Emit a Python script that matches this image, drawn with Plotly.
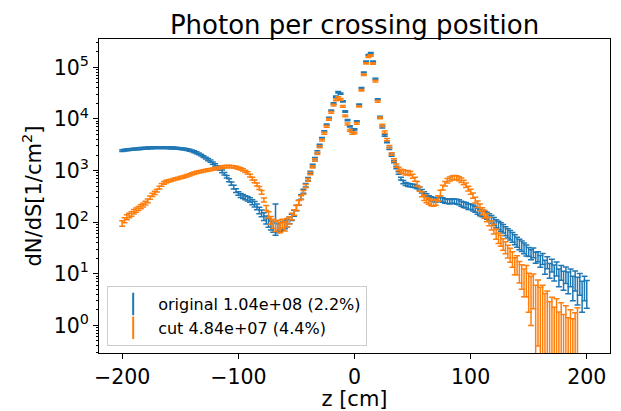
import plotly.graph_objects as go

# bin centres (cm)
z = list(range(-200, 201, 2))

orig_vals = [
    2450, 2500, 2520, 2560, 2580, 2600, 2630, 2650, 2680, 2700, 2720, 2740, 2760, 2770, 2780, 2790, 2790, 2800, 2790, 2780, 2770, 2760, 2740, 2720, 2700,
    2670, 2640, 2600, 2550, 2480, 2410, 2320, 2220, 2110, 1990, 1870, 1750, 1630, 1520, 1400, 1290, 1180, 1070, 970, 870, 760, 650, 560, 480, 410,
    360, 330, 315, 300, 285, 270, 245, 225, 200, 170, 150, 130, 112, 98, 88, 80, 140, 78, 82, 85, 90, 96, 110, 125, 150,
    190, 240, 310, 400, 520, 690, 920, 1250, 1700, 2300, 3100, 4200, 5700, 7800, 10500, 14500, 20000, 27000, 33000, 31000, 22000, 14000, 9500, 7200, 6200,
    6300, 9000, 19000, 40000, 80000, 130000, 175000, 190000, 130000, 60000, 24000, 11000, 7000, 4800, 3600, 2700, 2000, 1500, 1150, 900, 700, 600, 550, 530, 520,
    510, 500, 480, 450, 400, 360, 330, 300, 285, 275, 270, 275, 280, 270, 260, 255, 250, 260, 255, 250, 245, 230, 220, 215, 200,
    200, 190, 180, 165, 155, 150, 140, 135, 125, 115, 105, 95, 88, 82, 76, 68, 62, 57, 52, 47, 42, 38, 35, 32, 29,
    27, 24, 26, 21, 22, 18, 20, 14, 17, 12, 15, 11, 13, 9, 11, 8, 10, 7.5, 9, 6, 8, 5.5, 7, 4.5, 6, 4.8,
]
orig_err_pct = [
    4, 4, 4, 4, 4, 4, 4, 4, 4, 4, 4, 4, 4, 4, 4, 4, 4, 4, 4, 4, 4, 4, 4, 4, 4,
    4, 4, 4, 4, 4, 4, 4, 4, 4, 4, 4, 4, 5, 5, 5, 5, 5, 5, 6, 6, 6, 7, 7, 8, 8,
    8, 9, 9, 9, 10, 10, 11, 12, 13, 14, 15, 17, 18, 19, 20, 20, 60, 20, 19, 18, 17, 16, 15, 14, 13,
    12, 11, 10, 9, 8, 7, 6, 6, 5, 5, 4, 4, 4, 3, 3, 3, 3, 3, 3, 3, 3, 3, 3, 3, 3,
    3, 3, 3, 2, 2, 2, 2, 2, 2, 3, 3, 3, 4, 4, 4, 5, 5, 5, 6, 6, 6, 7, 7, 7, 7,
    7, 7, 7, 7, 8, 8, 8, 8, 9, 9, 9, 9, 9, 10, 10, 10, 10, 10, 10, 11, 11, 11, 12, 12, 12,
    12, 13, 13, 14, 14, 15, 15, 16, 16, 17, 17, 18, 18, 19, 19, 20, 20, 21, 21, 22, 22, 23, 23, 24, 24,
    20, 22, 21, 24, 22, 26, 24, 30, 26, 32, 28, 34, 30, 38, 32, 40, 35, 45, 38, 50, 42, 55, 45, 60, 50, 55,
]

cut_vals = [
    95, 110, 125, 135, 145, 160, 172, 185, 200, 215, 235, 260, 300, 340, 370, 410, 470, 530, 580, 610, 630, 650, 670, 690, 710,
    730, 750, 770, 800, 830, 860, 890, 920, 950, 970, 990, 1010, 1030, 1050, 1070, 1090, 1110, 1140, 1170, 1190, 1200, 1210, 1200, 1180, 1150,
    1120, 1080, 1030, 970, 900, 800, 700, 620, 540, 460, 380, 270, 190, 140, 110, 95, 85, 90, 80, 95, 85, 100, 110, 130, 155,
    190, 240, 300, 380, 500, 660, 880, 1180, 1600, 2150, 2900, 3900, 5300, 7200, 9800, 13500, 18500, 23500, 26000, 24000, 17500, 11500, 8000, 6000, 5300,
    5400, 8200, 17500, 36000, 72000, 120000, 160000, 170000, 118000, 54000, 22000, 10500, 7500, 5600, 4000, 2900, 2100, 1600, 1250, 1080, 980, 950, 900, 920, 880,
    780, 680, 560, 440, 350, 300, 270, 255, 240, 235, 245, 290, 370, 470, 560, 640, 690, 720, 740, 730, 700, 650, 590, 520, 450,
    390, 330, 270, 225, 195, 165, 145, 125, 105, 88, 75, 60, 50, 45, 38, 33, 28, 24, 20, 15, 16, 12, 10, 8, 9,
    6, 5, 6, 3, 4, 2.5, 3, 1.8, 2.2, 1.2, 1.6, 0.9, 1.5, 0.7, 1.2, 0.6, 1.0, 0.5, 0.8, 0.45, 0.7, 1.0, 0, 0, 0, 0,
]
cut_err_pct = [
    12, 11, 11, 10, 10, 10, 9, 9, 9, 8, 8, 8, 7, 7, 7, 6, 6, 6, 6, 6, 5, 5, 5, 5, 5,
    5, 5, 5, 5, 5, 5, 5, 5, 5, 5, 5, 5, 5, 5, 5, 5, 5, 5, 5, 5, 5, 5, 5, 5, 5,
    5, 5, 5, 5, 5, 6, 6, 6, 7, 7, 8, 9, 11, 14, 17, 20, 22, 21, 22, 20, 21, 18, 16, 14, 12,
    11, 10, 9, 8, 7, 6, 6, 5, 5, 5, 4, 4, 4, 4, 4, 4, 4, 4, 4, 4, 4, 4, 4, 4, 4,
    4, 4, 3, 3, 3, 3, 3, 3, 3, 4, 4, 4, 5, 5, 5, 6, 6, 6, 7, 8, 8, 9, 9, 9, 9,
    9, 9, 10, 10, 11, 12, 12, 13, 13, 13, 13, 12, 12, 11, 10, 10, 9, 9, 9, 9, 9, 10, 10, 10, 11,
    11, 12, 13, 14, 15, 16, 17, 18, 19, 20, 21, 22, 23, 24, 25, 26, 28, 30, 33, 36, 40, 45, 50, 55, 60,
    70, 80, 65, 100, 90, 120, 100, 130, 110, 140, 120, 150, 120, 160, 130, 170, 140, 180, 150, 200, 150, 120, 0, 0, 0, 0,
]

legend_labels = ["original 1.04e+08 (2.2%)", "cut 4.84e+07 (4.4%)"]
colors = ["#1f77b4", "#ff7f0e"]

x_ticks = [-200, -100, 0, 100, 200]
x_ticktext = ["\u2212200", "\u2212100", "0", "100", "200"]
y_ticks = [1, 10, 100, 1000, 10000, 100000]
y_ticktext = ["10<sup>0</sup>", "10<sup>1</sup>", "10<sup>2</sup>", "10<sup>3</sup>", "10<sup>4</sup>", "10<sup>5</sup>"]

FONT = "DejaVu Sans"

fig = go.Figure()
for vals, pct, col in [(orig_vals, orig_err_pct, colors[0]), (cut_vals, cut_err_pct, colors[1])]:
    yv = [v if v > 0 else None for v in vals]
    err = [v * p / 100.0 for v, p in zip(vals, pct)]
    fig.add_trace(go.Scatter(
        x=z, y=yv, mode="markers", showlegend=False,
        marker=dict(size=2, color=col, opacity=0),
        error_y=dict(type="data", array=err, visible=True, color=col, thickness=1.5, width=3),
    ))

for lab, col in zip(legend_labels, colors):
    fig.add_trace(go.Scatter(
        x=[None], y=[None], mode="markers", name=lab,
        marker=dict(symbol="line-ns-open", size=16, color=col, line=dict(color=col, width=2)),
    ))

fig.update_layout(
    width=621, height=411,
    margin=dict(l=99, r=11, t=39, b=58, autoexpand=False),
    paper_bgcolor="white", plot_bgcolor="white",
    font=dict(family=FONT, size=20, color="black"),
    title=dict(text="Photon per crossing position", x=0.5, xref="paper", xanchor="center",
               y=1 - 25 / 411, yref="container", yanchor="middle",
               font=dict(family=FONT, size=26, color="black")),
    legend=dict(x=0.016, y=0.022, xanchor="left", yanchor="bottom", itemwidth=40,
                bgcolor="rgba(255,255,255,0.8)", bordercolor="#cccccc", borderwidth=1,
                font=dict(family=FONT, size=16, color="black")),
)
fig.update_xaxes(
    automargin=False,
    range=[-220, 220], tickvals=x_ticks, ticktext=x_ticktext,
    showline=True, mirror=True, linecolor="black", linewidth=1,
    ticks="outside", ticklen=5, tickwidth=1, tickcolor="black",
    showgrid=False, zeroline=False,
    tickfont=dict(family=FONT, size=20.5),
    title=dict(text="z [cm]", font=dict(family=FONT, size=21), standoff=17),
)
fig.update_yaxes(
    automargin=False,
    type="log", range=[-0.535, 5.55], tickvals=y_ticks, ticktext=y_ticktext,
    showline=True, mirror=True, linecolor="black", linewidth=1,
    ticks="outside", ticklen=5, tickwidth=1, tickcolor="black",
    showgrid=False, zeroline=False,
    tickfont=dict(family=FONT, size=20.5),
    minor=dict(ticks="outside", ticklen=2.5, tickwidth=0.8, tickcolor="black", dtick="D1", showgrid=False),
    title=dict(text="dN/dS[1/cm<sup>2</sup>]", font=dict(family=FONT, size=21), standoff=6),
)

fig.write_html("out.html")
